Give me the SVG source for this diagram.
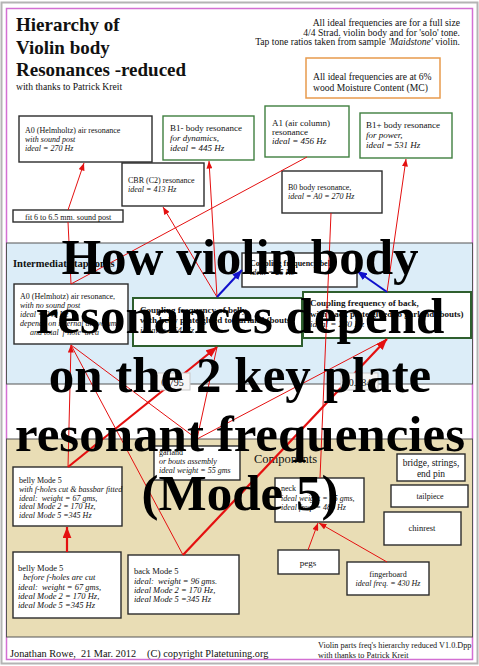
<svg xmlns="http://www.w3.org/2000/svg" width="479" height="666" viewBox="0 0 479 666">
<style>
text{font-family:"Liberation Serif","Times New Roman",serif;fill:#111}
.box{fill:#fff;stroke:#2b2b2b;stroke-width:1.4}
.gbox{fill:#fff;stroke:#3f7f3f;stroke-width:1.4}
.cbox{fill:#fff;stroke:#2e5f2e;stroke-width:2}
.t8{font-size:8px}
.t85{font-size:8.5px}
.t9{font-size:9px}
.i{font-style:italic}
.b{font-weight:bold}
.mid{text-anchor:middle}
.pre{white-space:pre}
.red{stroke:#e41010;stroke-width:1;fill:none}
.redt{stroke:#e41010;stroke-width:2.2;fill:none}
.blue{stroke:#1010cc;stroke-width:2;fill:none}
.big{font-size:51px;font-weight:bold;text-anchor:middle;fill:#000}
.ratio{fill:#f6f6f6;stroke:#c8c8c8;stroke-width:1}
</style>
<defs>
<marker id="ar" viewBox="0 0 10 8" refX="10" refY="4" markerWidth="8" markerHeight="6" markerUnits="userSpaceOnUse" orient="auto"><path d="M0,0 L10,4 L0,8 z" fill="#e41010"/></marker>
<marker id="art" viewBox="0 0 10 8" refX="10" refY="4" markerWidth="11" markerHeight="9" markerUnits="userSpaceOnUse" orient="auto"><path d="M0,0 L10,4 L0,8 z" fill="#e41010"/></marker>
<marker id="ab" viewBox="0 0 10 8" refX="10" refY="4" markerWidth="10" markerHeight="8" markerUnits="userSpaceOnUse" orient="auto"><path d="M0,0 L10,4 L0,8 z" fill="#1010cc"/></marker>
</defs>
<rect x="0" y="0" width="479" height="666" fill="#fff"/>
<rect x="1.5" y="2.5" width="476" height="661" fill="#fff" stroke="#b4b4b4" stroke-width="2"/>
<rect x="6.5" y="8.5" width="466" height="651" fill="#fff" stroke="#d36fd3" stroke-width="1.5"/>

<g id="title">
<text x="16" y="31" style="font-size:19px;font-weight:bold">Hierarchy of</text>
<text x="16" y="54" style="font-size:19px;font-weight:bold">Violin body</text>
<text x="16" y="76" style="font-size:19px;font-weight:bold">Resonances -reduced</text>
<text x="16" y="90" style="font-size:9.6px">with thanks to Patrick Kreit</text>
</g>
<g id="notes" style="font-size:9.6px">
<text x="460" y="26" text-anchor="end">All ideal frequencies are for a full size</text>
<text x="460" y="35.5" text-anchor="end">4/4 Strad. violin body and for 'solo' tone.</text>
<text x="460" y="45" text-anchor="end">Tap tone ratios taken from sample <tspan font-style="italic">'Maidstone'</tspan> violin.</text>
</g>
<g id="mc-note">
<rect x="306" y="58" width="134" height="40" fill="#fff" stroke="#e89a4c" stroke-width="1.5"/>
<text x="313" y="80" style="font-size:9.6px">All ideal frequencies are at 6%</text>
<text x="313" y="91" style="font-size:9.6px">wood Moisture Content (MC)</text>
</g>

<g id="band-intermediate">
<rect x="6.5" y="243" width="466" height="141" fill="#dcedf8" stroke="#555" stroke-width="1"/>
<text x="13" y="267" style="font-size:10.5px;font-weight:bold">Intermediate tap tones</text>
</g>
<g id="band-components">
<rect x="6.5" y="439" width="466" height="198" fill="#e9ddb5" stroke="#555" stroke-width="1"/>
<text x="254" y="463" style="font-size:12.5px">Components</text>
</g>

<g id="A0-sp">
<rect class="box" x="19" y="116" width="133" height="46"/>
<text class="t8" x="25" y="133">A0 (Helmholtz) air resonance</text>
<text class="t8 i" x="25" y="142">with sound post</text>
<text class="t8 i" x="25" y="151">ideal = 270 Hz</text>
</g>
<g id="B1minus">
<rect class="gbox" x="163" y="116" width="91" height="44"/>
<text class="t9" x="170" y="131">B1- body resonance</text>
<text class="t9 i" x="170" y="141">for dynamics,</text>
<text class="t9 i" x="170" y="151">ideal = 445 Hz</text>
</g>
<g id="CBR">
<rect class="box" x="122" y="163" width="82" height="43"/>
<text class="t8" x="128" y="183">CBR (C2) resonance</text>
<text class="t8 i" x="128" y="192">ideal = 413 Hz</text>
</g>
<g id="soundpost">
<rect class="box" x="13" y="210" width="110" height="12"/>
<text class="t8" x="25" y="219.5">fit 6 to 6.5 mm. sound post</text>
</g>
<g id="A1">
<rect class="gbox" x="265" y="106" width="84" height="51"/>
<text class="t9" x="272" y="126">A1 (air column)</text>
<text class="t9" x="272" y="135">resonance</text>
<text class="t9 i" x="272" y="144">ideal = 456 Hz</text>
</g>
<g id="B1plus">
<rect class="gbox" x="360" y="113" width="92" height="45"/>
<text class="t9" x="366" y="128">B1+ body resonance</text>
<text class="t9 i" x="366" y="138">for power,</text>
<text class="t9 i" x="366" y="148">ideal = 531 Hz</text>
</g>
<g id="B0">
<rect class="box" x="282" y="171" width="100" height="42"/>
<text class="t8" x="288" y="190">B0 body resonance,</text>
<text class="t8 i" x="288" y="199">ideal = A0 = 270 Hz</text>
</g>

<g id="A0-nosp">
<rect class="box" x="14" y="284" width="114" height="60"/>
<text class="t8" x="20" y="299">A0 (Helmhotz) air resonance,</text>
<text class="t8 i" x="20" y="308">with no sound post</text>
<text class="t8 i" x="20" y="317">ideal = 240 Hz</text>
<text class="t8 i" x="20" y="326">depends on internal air volume</text>
<text class="t8 i" x="30" y="335">and total 'f-hole' area</text>
</g>
<g id="coupling-delta">
<rect class="box" x="242" y="253" width="115" height="34"/>
<text class="t8 b" x="250" y="266">Coupling frequency belly</text>
<text class="t8 i" x="250" y="275">ideal = 25 Hz</text>
</g>
<g id="coupling-belly">
<rect class="cbox" x="133" y="298" width="169" height="48"/>
<text class="t9 b" x="140" y="313">Coupling frequency of belly,</text>
<text class="t9 b" x="140" y="323">with belly plate glued to garland (bouts)</text>
<text class="t9 i" x="140" y="333">ideal = 264 Hz</text>
</g>
<g id="coupling-back">
<rect class="cbox" x="303" y="292" width="168" height="46"/>
<text class="t9 b" x="310" y="306">Coupling frequency of back,</text>
<text class="t9 b" x="310" y="316.5">with back plate glued to garland (bouts)</text>
<text class="t9 i" x="310" y="327">ideal = 280 Hz</text>
</g>

<g id="garland">
<rect class="box" x="154" y="446" width="86" height="34"/>
<text class="t8" x="159" y="455">garland</text>
<text class="t8 i" x="159" y="464">or bouts assembly</text>
<text class="t8 i" x="159" y="473">ideal weight = 55 gms</text>
</g>
<g id="bridge">
<rect class="box" x="397" y="454" width="68" height="27"/>
<text class="mid" x="431" y="466" style="font-size:9.5px">bridge, strings,</text>
<text class="mid" x="431" y="477" style="font-size:9.5px">end pin</text>
</g>
<g id="tailpiece">
<rect class="box" x="391" y="485" width="77" height="22"/>
<text class="t8 mid" x="430" y="499">tailpiece</text>
</g>
<g id="chinrest">
<rect class="box" x="384" y="512" width="77" height="33"/>
<text class="t85 mid" x="422" y="531">chinrest</text>
</g>
<g id="neck">
<rect class="box" x="275" y="478" width="89" height="44"/>
<text class="t8" x="281" y="491">neck</text>
<text class="t8 i" x="281" y="501">ideal weight = 65 gms,</text>
<text class="t8 i" x="281" y="510">ideal freq. = 480 Hz</text>
</g>
<g id="pegs">
<rect class="box" x="278" y="550" width="61" height="24"/>
<text class="t9 mid" x="308" y="566">pegs</text>
</g>
<g id="fingerboard">
<rect class="box" x="347" y="562" width="82" height="33"/>
<text class="t8 mid" x="388" y="577">fingerboard</text>
<text class="t8 i mid" x="388" y="586">ideal freq. = 430 Hz</text>
</g>
<g id="belly-cut">
<rect class="box" x="13" y="467" width="109" height="59"/>
<text class="t8" x="19" y="483">belly Mode 5</text>
<text class="t8 i" x="19" y="492">with f-holes cut &amp; bassbar fitted</text>
<text class="t8 i pre" x="19" y="500.5">ideal:  weight = 67 gms,</text>
<text class="t8 i" x="19" y="509">ideal Mode 2 = 170 Hz,</text>
<text class="t8 i" x="19" y="517.5">ideal Mode 5 =345 Hz</text>
</g>
<g id="belly-uncut">
<rect class="box" x="13" y="552" width="108" height="66"/>
<text class="t85" x="18" y="571">belly Mode 5</text>
<text class="t85 i" x="23" y="580">before f-holes are cut</text>
<text class="t85 i pre" x="18" y="589.5">ideal:  weight = 67 gms,</text>
<text class="t85 i" x="18" y="598.5">ideal Mode 2 = 170 Hz,</text>
<text class="t85 i" x="18" y="607.5">ideal Mode 5 =345 Hz</text>
</g>
<g id="back-mode5">
<rect class="box" x="128" y="555" width="111" height="59"/>
<text class="t85" x="134" y="574">back Mode 5</text>
<text class="t85 i pre" x="134" y="583.5">ideal:  weight = 96 gms.</text>
<text class="t85 i" x="134" y="592.5">ideal Mode 2 = 170 Hz,</text>
<text class="t85 i" x="134" y="601.5">ideal Mode 5 =345 Hz</text>
</g>

<g id="connectors">
<line class="red" x1="68" y1="210" x2="84" y2="163" marker-end="url(#ar)"/>
<line class="red" x1="71" y1="284" x2="68" y2="222"/>
<line class="red" x1="217" y1="297" x2="163" y2="207" marker-end="url(#ar)"/>
<line class="red" x1="217" y1="297" x2="209" y2="161" marker-end="url(#ar)"/>
<line class="red" x1="71" y1="284" x2="307" y2="157"/>
<line class="red" x1="320" y1="478" x2="331" y2="213"/>
<line class="red" x1="387" y1="292" x2="406" y2="159" marker-end="url(#ar)"/>
<line class="blue" x1="217" y1="297" x2="242" y2="270" marker-end="url(#ab)"/>
<line class="blue" x1="387" y1="292" x2="357" y2="271" marker-end="url(#ab)"/>
<line class="redt" x1="68" y1="467" x2="217" y2="347" marker-end="url(#art)"/>
<line class="redt" x1="183" y1="555" x2="387" y2="339" marker-end="url(#art)"/>
<line class="red" x1="68" y1="467" x2="71" y2="345" marker-end="url(#ar)"/>
<line class="red" x1="183" y1="555" x2="71" y2="345"/>
<line class="red" x1="197" y1="439" x2="71" y2="345"/>
<line class="red" x1="197" y1="439" x2="217" y2="347"/>
<line class="red" x1="197" y1="439" x2="387" y2="339"/>
<line class="redt" x1="67" y1="552" x2="67" y2="527" marker-end="url(#art)"/>
<line class="red" x1="308" y1="550" x2="318" y2="523" marker-end="url(#ar)"/>
<line class="red" x1="387" y1="562" x2="319" y2="523" marker-end="url(#ar)"/>
</g>

<g id="ratios">
<rect class="ratio" x="155" y="373" width="35" height="17"/>
<text x="172.5" y="386" class="mid" style="font-size:10px">0.795</text>
<rect class="ratio" x="341" y="373" width="37" height="17"/>
<text x="360" y="386" class="mid" style="font-size:10px">0.984</text>
</g>

<g id="footer">
<text class="pre" x="10" y="657" style="font-size:10.3px">Jonathan Rowe,  21 Mar. 2012</text>
<text x="147" y="657" style="font-size:10.3px">(C) copyright Platetuning.org</text>
<text x="318" y="648" style="font-size:8.2px">Violin parts freq's hierarchy reduced V1.0.Dpp</text>
<text x="318" y="658" style="font-size:8.2px">with thanks to Patrick Kreit</text>
</g>

<g id="overlay-title">
<text class="big" x="240" y="274">How violin body</text>
<text class="big" x="240" y="333">resonances depend</text>
<text class="big" x="240" y="392">on the 2 key plate</text>
<text class="big" x="240" y="451">resonant frequencies</text>
<text class="big pre" x="240" y="510">(Mode 5)</text>
</g>
</svg>
